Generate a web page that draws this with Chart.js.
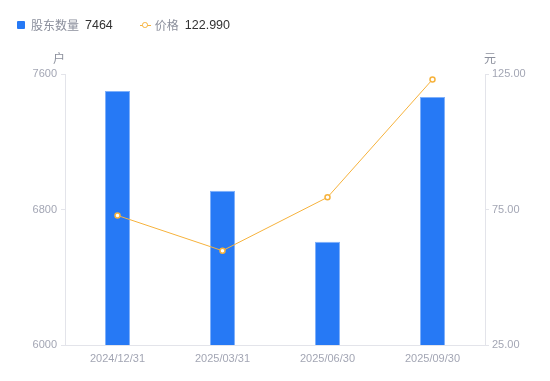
<!DOCTYPE html>
<html>
<head>
<meta charset="utf-8">
<script src="https://cdn.jsdelivr.net/npm/chart.js@4"></script>
<style>
  body { margin: 0; background: #fff; }
  #wrap { position: relative; width: 550px; height: 381px; }
  #legend { position: absolute; left: 17px; top: 16px; font-family: "Noto Sans CJK SC", "Liberation Sans", sans-serif; font-size: 12px; line-height: 18px; display: flex; }
  .item { display: flex; align-items: center; margin-right: 27px; }
  .box { width: 8px; height: 8px; background: #2679f5; border-radius: 1px; margin-right: 6px; }
  .lineicon { position: relative; width: 11px; height: 8px; margin-right: 4px; }
  .lineicon:before { content: ""; position: absolute; left: 0; right: 0; top: 3.5px; height: 1px; background: #f6b23c; }
  .lineicon:after { content: ""; position: absolute; left: 2.5px; top: 1px; width: 3.5px; height: 3.5px; border: 1.5px solid #f6b23c; border-radius: 50%; background: #fff; }
  .name { color: #8b8f9c; margin-right: 6px; }
  .val { color: #333; font-family: "Liberation Sans", sans-serif; font-size: 12.5px; }
  canvas { position: absolute; left: 0; top: 0; }
</style>
</head>
<body>
<div id="wrap">
  <canvas id="chart" width="550" height="381"></canvas>
  <div id="legend"></div>
</div>
<script>
// Data
const dates = ["2024/12/31", "2025/03/31", "2025/06/30", "2025/09/30"];
const holders = [7500, 6910, 6610, 7464];
const prices = [72.8, 59.8, 79.5, 122.99];

const holderLabel = "股东数量";
const priceLabel = "价格";

// HTML legend with latest values
const legend = document.getElementById("legend");
legend.innerHTML =
  '<div class="item"><span class="box"></span><span class="name">' + holderLabel +
  '</span><span class="val">' + holders[holders.length - 1] + '</span></div>' +
  '<div class="item"><span class="lineicon"></span><span class="name">' + priceLabel +
  '</span><span class="val">' + prices[prices.length - 1].toFixed(3) + '</span></div>';

const tickColor = "#a3a6b4";
const lineColor = "#e3e4ea";
const font = { family: "Liberation Sans, Noto Sans CJK SC, sans-serif", size: 11 };

// Draw unit titles above both y axes
const unitTitles = {
  id: "unitTitles",
  afterDraw(chart) {
    const ctx = chart.ctx;
    const top = chart.chartArea.top;
    ctx.save();
    ctx.font = "12px Noto Sans CJK SC";
    ctx.fillStyle = "#8b8f9c";
    ctx.textBaseline = "middle";
    ctx.textAlign = "center";
    ctx.fillText("户", chart.scales.y.right - 6, top - 16);
    ctx.fillText("元", chart.scales.y1.left + 5, top - 16);
    ctx.restore();
  }
};

new Chart(document.getElementById("chart").getContext("2d"), {
  data: {
    labels: dates,
    datasets: [
      {
        type: "line",
        label: priceLabel,
        data: prices,
        yAxisID: "y1",
        borderColor: "#f6b23c",
        borderWidth: 1,
        pointRadius: 2.5,
        pointBorderWidth: 1.5,
        pointBackgroundColor: "#fff",
        pointBorderColor: "#f6b23c",
        tension: 0,
        order: 0
      },
      {
        type: "bar",
        label: holderLabel,
        data: holders,
        yAxisID: "y",
        backgroundColor: "#2679f5",
        borderColor: "#7fb0fa",
        borderWidth: { left: 1, right: 1, top: 1, bottom: 0 },
        categoryPercentage: 1,
        barPercentage: 0.238,
        order: 1
      }
    ]
  },
  options: {
    responsive: false,
    animation: false,
    layout: { padding: { top: 74, left: 0, right: 0, bottom: 0 } },
    plugins: { legend: { display: false }, tooltip: { enabled: false } },
    scales: {
      x: {
        grid: { display: false, drawTicks: false },
        border: { color: lineColor },
        ticks: { color: tickColor, font: font, padding: 7, maxRotation: 0 },
        afterFit(scale) { scale.height = 36; }
      },
      y: {
        position: "left",
        min: 6000,
        max: 7600,
        grid: { drawOnChartArea: false, color: lineColor, tickLength: 4 },
        border: { color: lineColor },
        ticks: { stepSize: 800, color: tickColor, font: font, padding: 4, callback: v => String(v) },
        afterFit(scale) { scale.width = 65; }
      },
      y1: {
        position: "right",
        min: 25,
        max: 125,
        grid: { drawOnChartArea: false, color: lineColor, tickLength: 4 },
        border: { color: lineColor },
        ticks: { stepSize: 50, color: tickColor, font: font, padding: 3, callback: v => v.toFixed(2) },
        afterFit(scale) { scale.width = 65; }
      }
    }
  },
  plugins: [unitTitles]
});
</script>
</body>
</html>
